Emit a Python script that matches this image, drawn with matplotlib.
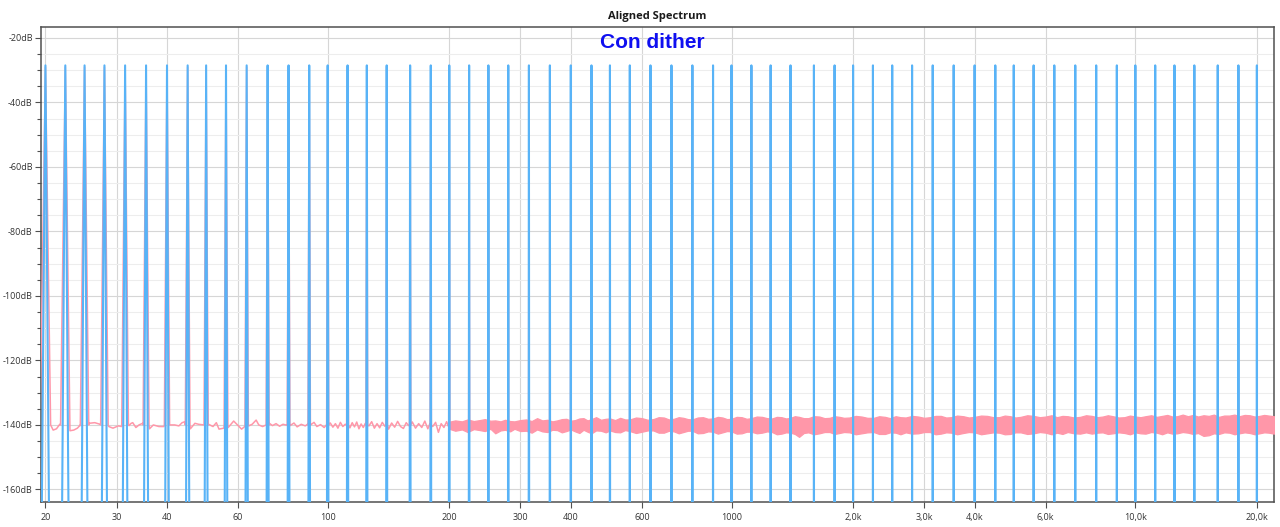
import numpy as np
import matplotlib
matplotlib.use("Agg")
import matplotlib.pyplot as plt
from matplotlib.ticker import FixedLocator, MultipleLocator, NullLocator, FuncFormatter

plt.rcParams["font.family"] = ["Open Sans", "DejaVu Sans"]

# ---------------- data ----------------
tone_freqs = [20, 22.4, 25, 28, 31.5, 35.5, 40, 45, 50, 56, 63, 71, 80, 90,
              100, 112, 125, 140, 160, 180, 200, 224, 250, 280, 315, 355, 400, 450, 500, 560,
              630, 710, 800, 900, 1000, 1120, 1250, 1400, 1600, 1800, 2000, 2240, 2500, 2800,
              3150, 3550, 4000, 4500, 5000, 5600, 6300, 7100, 8000, 9000, 10000, 11200, 12500,
              14000, 16000, 18000, 20000]
blue_peak_db = -28.5
blue_floor_db = -170.0
pink_peak_db = -29.0
pink_base_db = -140.0

# low-frequency noise floor of the pink (dithered) trace
floor_freqs = [20.9, 21.3, 21.7,
               23.0, 23.5, 24.0, 24.4,
               25.6, 26.5, 27.3,
               28.7, 29.4, 30.3, 30.9,
               32.2, 32.6, 32.9, 33.5, 34.1, 34.8,
               36.2, 37.0, 38.2, 39.3,
               40.7, 41.8, 42.8, 43.6, 44.3,
               45.7, 46.9, 47.9, 49.3,
               50.7, 52.0, 53.0, 53.8, 55.3,
               56.7, 58.5, 59.8, 61.2, 62.3,
               63.7, 65.0, 66.5, 67.5, 69.0, 70.3,
               71.7, 73.0, 74.5, 76.0, 77.5, 79.3,
               80.7, 82.5, 84.0, 86.0, 88.0, 89.3,
               90.7, 92.5, 94.0, 96.0, 98.0, 99.3,
               101.5, 103.0, 104.5, 106.0, 107.5, 109.0, 110.5,
               113.5, 115.0, 116.5, 118.0, 119.5, 121.0, 122.5, 124.0,
               126.5, 128.5, 130.5, 132.5, 134.5, 136.5, 138.5,
               141.5, 144.0, 146.5, 149.0, 151.5, 154.0, 156.5, 158.5,
               162.0, 165.0, 168.0, 171.0, 174.0, 177.0, 179.0,
               182.0, 185.0, 188.0, 191.0, 194.0, 197.0, 199.0]
floor_db = [-141.6, -141.2, -139.8,
            -141.8, -141.6, -141.0, -140.2,
            -139.5, -139.3, -139.8,
            -140.5, -141.0, -140.3, -140.5,
            -140.2, -139.5, -139.3, -140.8, -140.0, -139.5,
            -141.2, -140.0, -140.5, -140.5,
            -140.0, -140.0, -140.3, -139.3, -139.0,
            -141.2, -139.5, -139.8, -140.0,
            -139.8, -140.5, -139.3, -141.3, -141.0,
            -140.8, -138.8, -140.0, -141.3, -140.5,
            -140.3, -139.8, -138.5, -140.0, -140.5, -140.0,
            -139.5, -140.2, -139.6, -140.4, -139.8, -140.1,
            -140.2, -139.4, -140.6, -139.8, -140.3, -139.7,
            -140.0, -139.2, -140.5, -139.9, -140.8, -140.0,
            -139.4, -140.7, -139.6, -141.0, -139.2, -140.5, -139.8,
            -140.9, -139.3, -140.6, -139.1, -141.2, -139.7, -140.8, -139.5,
            -140.3, -139.0, -141.0, -139.6, -140.9, -139.2, -140.4,
            -141.3, -139.4, -140.7, -138.9, -140.5, -141.1, -139.3, -140.2,
            -139.1, -141.0, -139.6, -140.8, -138.8, -141.2, -139.7,
            -140.5, -139.2, -142.3, -139.6, -140.8, -139.0, -140.4]

# dense noise band (upper / lower envelope) above 200 Hz
band_freqs = [200, 207, 215, 222, 230, 238, 245, 253, 260, 268, 275, 283, 290, 300, 310, 320,
              330, 340, 350, 360, 370, 380, 390, 400, 410, 420, 430, 440, 450, 462, 475, 488,
              500, 515, 530, 545, 560, 580, 600, 620, 640, 660, 680, 700, 720, 740, 760, 780,
              800, 825, 850, 875, 900, 925, 950, 975, 1000, 1030, 1060, 1090, 1120, 1155, 1190,
              1225, 1260, 1295, 1330, 1365, 1400, 1435, 1470, 1510, 1550, 1600, 1650, 1700,
              1750, 1800, 1850, 1900, 1960, 2030, 2100, 2170, 2250, 2320, 2400, 2470, 2550,
              2620, 2700, 2800, 2900, 3000, 3100, 3200, 3300, 3400, 3500, 3620, 3750, 3870,
              4000, 4150, 4300, 4450, 4600, 4750, 4900, 5050, 5200, 5400, 5600, 5800, 6000,
              6200, 6400, 6600, 6800, 7050, 7300, 7550, 7800, 8050, 8300, 8550, 8800, 9100,
              9400, 9700, 10000, 10300, 10600, 10950, 11300, 11650, 12000, 12350, 12700,
              13100, 13500, 13900, 14300, 14750, 15200, 15650, 16100, 16600, 17100, 17600,
              18100, 18650, 19200, 19750, 20300, 20850, 21400, 22050]
band_top = [-139.0, -138.6, -138.9, -138.3, -138.8, -138.5, -138.2, -138.7, -138.6, -138.9,
            -138.4, -138.8, -138.9, -138.5, -138.3, -138.8, -137.9, -138.6, -138.4, -138.9,
            -138.6, -138.2, -138.1, -138.7, -138.5, -138.0, -137.9, -138.6, -138.2, -137.6,
            -138.4, -138.1, -138.0, -138.5, -137.8, -138.3, -138.3, -137.7, -137.9, -138.4,
            -138.2, -137.6, -137.7, -138.3, -138.1, -137.6, -137.8, -138.2, -138.3, -137.7,
            -137.6, -138.1, -138.0, -137.5, -137.7, -138.2, -138.1, -137.5, -137.6, -138.1,
            -137.9, -137.4, -137.5, -137.9, -138.0, -137.5, -137.6, -138.0, -137.8, -137.3,
            -137.5, -137.9, -137.9, -137.3, -137.4, -137.9, -137.8, -137.3, -137.5, -137.8,
            -137.7, -137.2, -137.4, -137.8, -137.8, -137.3, -137.5, -137.9, -137.3, -137.6,
            -137.7, -137.2, -137.4, -137.8, -137.6, -137.2, -137.2, -137.7, -137.6, -137.1,
            -137.3, -137.7, -137.5, -137.1, -137.2, -137.6, -137.6, -137.1, -137.3, -137.7,
            -137.5, -137.0, -137.2, -137.6, -137.4, -137.0, -137.6, -137.2, -137.3, -137.7,
            -137.5, -137.0, -137.2, -137.6, -137.4, -137.0, -137.3, -137.7, -137.6, -137.1,
            -137.4, -137.6, -137.3, -137.0, -137.5, -137.2, -136.9, -137.4, -137.3, -136.8,
            -137.3, -136.9, -137.4, -137.0, -137.2, -136.8, -137.5, -137.1, -137.1, -136.8,
            -137.3, -136.9, -137.0, -137.4, -137.2, -136.9, -137.1, -137.3]
band_bot = [-141.2, -141.8, -141.4, -142.2, -141.3, -141.6, -141.9, -141.2, -142.6, -141.7,
            -141.5, -142.0, -141.2, -141.9, -141.8, -142.4, -141.4, -142.0, -142.2, -141.5,
            -141.6, -142.3, -141.9, -141.4, -142.0, -142.5, -141.5, -142.1, -142.6, -141.7,
            -141.8, -142.3, -141.7, -142.2, -142.3, -141.6, -141.9, -142.5, -142.1, -141.7,
            -141.7, -142.4, -142.4, -141.8, -142.0, -142.6, -142.2, -141.8, -141.8, -142.6,
            -142.5, -142.0, -142.1, -142.7, -142.3, -141.9, -142.0, -142.7, -142.6, -142.1,
            -142.1, -142.6, -142.4, -142.0, -142.2, -142.9, -142.7, -142.3, -142.4, -142.8,
            -143.7, -142.5, -142.3, -142.9, -142.6, -142.2, -142.2, -142.8, -142.5, -142.2,
            -142.3, -142.9, -142.6, -142.3, -142.2, -142.8, -142.8, -142.3, -142.4, -142.9,
            -142.3, -142.7, -142.6, -142.2, -142.2, -142.9, -142.7, -142.3, -142.4, -142.9,
            -142.5, -142.2, -142.3, -142.9, -142.6, -142.3, -142.4, -142.9, -142.8, -142.3,
            -142.3, -142.8, -142.6, -142.2, -142.4, -142.9, -142.4, -142.8, -142.2, -142.6,
            -142.7, -142.3, -142.7, -142.4, -142.3, -142.8, -142.6, -142.3, -142.5, -142.9,
            -142.3, -142.6, -142.7, -142.2, -142.4, -142.9, -142.3, -142.7, -142.6, -142.2,
            -142.4, -142.8, -142.5, -143.4, -143.2, -142.6, -142.8, -142.3, -142.4, -142.9,
            -142.6, -142.3, -142.5, -142.9, -142.6, -142.3, -142.4, -142.7]

x_tick_vals = [20, 30, 40, 60, 100, 200, 300, 400, 600, 1000, 2000, 3000, 4000, 6000, 10000, 20000]
x_tick_labels = ["20", "30", "40", "60", "100", "200", "300", "400", "600", "1000",
                 "2,0k", "3,0k", "4,0k", "6,0k", "10,0k", "20,0k"]

# peak shapes (half-width of the FFT lobes in Hz)
blue_half_width = 0.42
pink_half_width = 0.60

BLUE = "#58b3f7"
PINK = "#ff97a9"

# ---------------- figure ----------------
W, H = 1280, 527
fig = plt.figure(figsize=(W / 100, H / 100), dpi=100)
L, R, T, B = 41, 1274, 27, 502
ax = fig.add_axes([L / W, 1 - B / H, (R - L) / W, (B - T) / H])

ax.set_xscale("log")
ax.set_xlim(19.5, 22050)
ax.set_ylim(-163.9, -16.6)

# pink trace: floor + tone lobes
px = list(floor_freqs)
py = list(floor_db)
for f in tone_freqs:
    px += [f - pink_half_width, f, f + pink_half_width]
    py += [pink_base_db, pink_peak_db, pink_base_db]
order = np.argsort(px)
px = np.array(px)[order]
py = np.array(py)[order]
ax.plot(px, py, color=PINK, lw=1.1, zorder=3)
ax.fill_between(band_freqs, band_bot, band_top, color=PINK, lw=0.9, edgecolor=PINK, zorder=3)

# blue trace: tone lobes
bx, by = [], []
for f in tone_freqs:
    bx += [f - blue_half_width, f, f + blue_half_width]
    by += [blue_floor_db, blue_peak_db, blue_floor_db]
ax.plot(bx, by, color=BLUE, lw=1.5, zorder=4)

# axes styling
ax.xaxis.set_major_locator(FixedLocator(x_tick_vals))
ax.xaxis.set_minor_locator(NullLocator())
ax.set_xticklabels(x_tick_labels)
ax.yaxis.set_major_locator(MultipleLocator(20))
ax.yaxis.set_minor_locator(MultipleLocator(5))
ax.yaxis.set_major_formatter(FuncFormatter(lambda v, p: f"{int(round(v))}dB"))

ax.set_axisbelow(True)
ax.grid(which="major", color="#d6d6d6", lw=0.8)
ax.grid(which="minor", axis="y", color="#ededed", lw=0.8)

for s in ax.spines.values():
    s.set_color("#505050")
    s.set_linewidth(1.1)

ax.tick_params(axis="both", which="major", direction="out", length=4, width=0.8,
               color="#505050", labelsize=6.5, labelcolor="#333333", pad=2)
ax.tick_params(axis="y", which="minor", direction="out", length=3, width=0.8, color="#505050")
ax.tick_params(axis="x", pad=4)

fig.text(657.5 / W, 1 - 19 / H, "Aligned Spectrum", ha="center", va="baseline",
         fontsize=8, fontweight="bold", color="#1a1a1a")
fig.text(652.5 / W, 1 - 48 / H, "Con dither", ha="center", va="baseline",
         fontsize=15, fontweight="bold", color="#0f0ff0", family="Liberation Sans", zorder=10)

fig.savefig("out.png", dpi=100)
